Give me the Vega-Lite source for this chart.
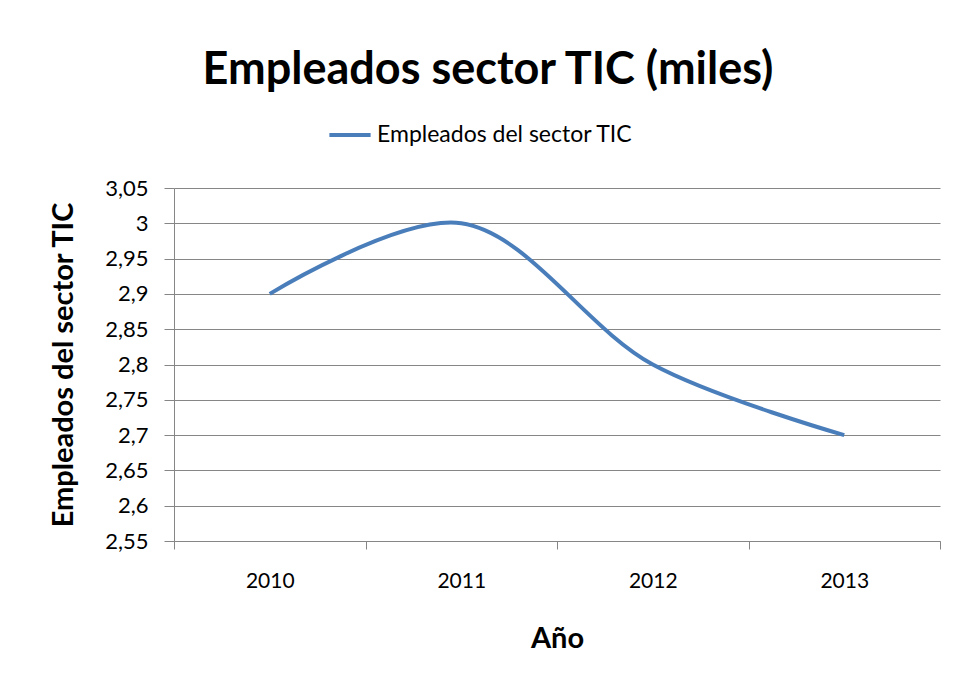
{
  "$schema": "https://vega.github.io/schema/vega-lite/v6.json",
  "autosize": "none",
  "width": 766,
  "height": 353,
  "padding": {"left": 174, "top": 188, "right": 16, "bottom": 144},
  "background": "white",
  "title": {
    "text": "Empleados sector TIC (miles)",
    "font": "Lato",
    "fontSize": 45,
    "fontWeight": "bold",
    "color": "#000000",
    "anchor": "middle",
    "dx": -69,
    "offset": 19
  },
  "data": {
    "values": [
      {"Año": "2010", "valor": 2.9, "serie": "Empleados del sector TIC"},
      {"Año": "2011", "valor": 3.0, "serie": "Empleados del sector TIC"},
      {"Año": "2012", "valor": 2.8, "serie": "Empleados del sector TIC"},
      {"Año": "2013", "valor": 2.7, "serie": "Empleados del sector TIC"}
    ]
  },
  "mark": {"type": "line", "interpolate": "catmull-rom", "strokeWidth": 4},
  "encoding": {
    "x": {
      "field": "Año",
      "type": "ordinal",
      "scale": {"type": "band", "paddingInner": 0, "paddingOuter": 0},
      "axis": {
        "title": "Año",
        "labelAngle": 0,
        "tickBand": "extent",
        "grid": false,
        "domainColor": "#868686",
        "tickColor": "#868686",
        "tickSize": 8,
        "labelPadding": 21,
        "labelFont": "Lato",
        "labelFontSize": 21,
        "labelColor": "#000000",
        "titleFont": "Lato",
        "titleFontSize": 29,
        "titleFontWeight": "bold",
        "titleColor": "#000000",
        "titlePadding": 33
      }
    },
    "y": {
      "field": "valor",
      "type": "quantitative",
      "scale": {"domain": [2.55, 3.05], "zero": false, "nice": false},
      "axis": {
        "title": "Empleados del sector TIC",
        "values": [2.55, 2.6, 2.65, 2.7, 2.75, 2.8, 2.85, 2.9, 2.95, 3.0, 3.05],
        "labelExpr": "replace(format(datum.value, '.2~f'), '.', ',')",
        "grid": true,
        "gridColor": "#868686",
        "domainColor": "#868686",
        "tickColor": "#868686",
        "tickSize": 10,
        "labelPadding": 16,
        "labelFont": "Lato",
        "labelFontSize": 22,
        "labelColor": "#000000",
        "titleFont": "Lato",
        "titleFontSize": 29,
        "titleFontWeight": "bold",
        "titleColor": "#000000",
        "titlePadding": 26
      }
    },
    "color": {
      "field": "serie",
      "type": "nominal",
      "scale": {"range": ["#4A7EBB"]},
      "legend": {
        "title": null,
        "orient": "none",
        "legendX": 153,
        "legendY": -76,
        "symbolType": "stroke",
        "symbolStrokeWidth": 4,
        "symbolSize": 1700,
        "labelFont": "Lato",
        "labelFontSize": 23,
        "labelLimit": 0,
        "labelColor": "#000000",
        "labelOffset": 4
      }
    }
  },
  "config": {"view": {"stroke": null}}
}
